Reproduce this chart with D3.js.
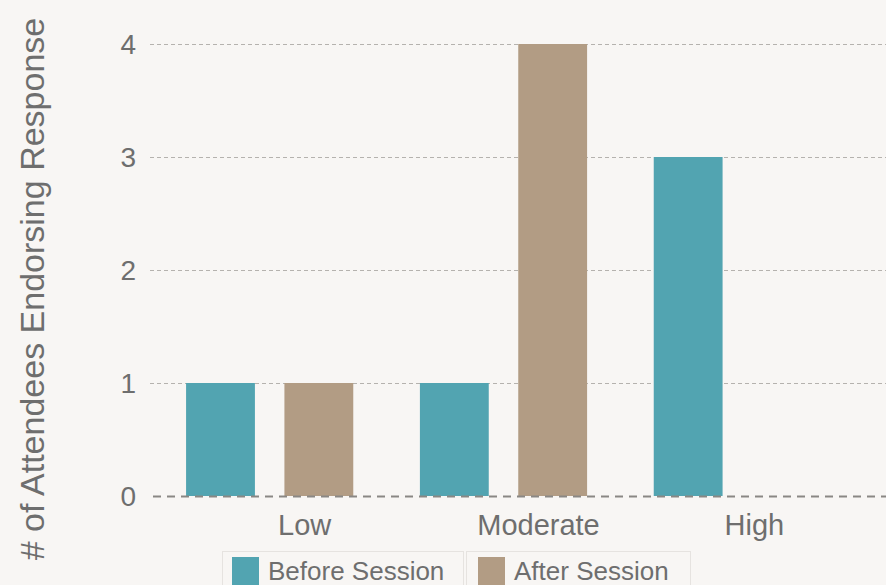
<!DOCTYPE html>
<html>
<head>
<meta charset="utf-8">
<script src="https://cdn.jsdelivr.net/npm/d3@7"></script>
<style>
  body { margin: 0; background: #f8f6f4; }
  svg { display: block; font-family: "Liberation Sans", Arial, sans-serif; }
</style>
</head>
<body>
<svg></svg>
<script>
var width = 886;
var height = 585;

var categories = ["Low", "Moderate", "High"];
var seriesNames = ["Before Session", "After Session"];
var beforeValues = [1, 1, 3];
var afterValues = [1, 4, 0];
var yTicks = [0, 1, 2, 3, 4];

var colors = ["#52a4b1", "#b29c84"];

var svg = d3.select("svg")
            .attr("width", width)
            .attr("height", height);

svg.append("rect")
    .attr("width", width)
    .attr("height", height)
    .attr("fill", "#f8f6f4");

// bands: group starts at 186, 421, 655 with step ~235
var x = d3.scaleBand()
            .domain(categories)
            .range([151, 856])
            .paddingInner(0.285)
            .paddingOuter(0.15);

var xInner = d3.scaleBand()
            .domain(seriesNames)
            .range([0, x.bandwidth()])
            .paddingInner(0.3);

var y = d3.scaleLinear()
            .domain([0, 4])
            .range([496, 44]);

// grid lines
svg.append("g")
    .selectAll("line")
    .data(yTicks.filter(d => d > 0))
    .enter()
    .append("line")
        .attr("x1", 150)
        .attr("x2", width)
        .attr("y1", d => y(d) + 0.5)
        .attr("y2", d => y(d) + 0.5)
        .attr("stroke", "#b5b2ae")
        .attr("stroke-width", 1)
        .attr("stroke-dasharray", "4,3");

// y tick labels
svg.append("g")
    .selectAll("text")
    .data(yTicks)
    .enter()
    .append("text")
        .attr("x", 136)
        .attr("y", d => y(d))
        .attr("dy", "0.36em")
        .attr("text-anchor", "end")
        .attr("fill", "#6e6e6e")
        .style("font-size", "28px")
        .text(d => d);

// bars
var rows = categories.map((c, i) => ({
    category: c,
    values: [
        { series: seriesNames[0], value: beforeValues[i] },
        { series: seriesNames[1], value: afterValues[i] }
    ]
}));

svg.append("g")
    .selectAll("g")
    .data(rows)
    .enter()
    .append("g")
        .attr("transform", d => "translate(" + x(d.category) + ",0)")
    .selectAll("rect")
    .data(d => d.values.filter(v => v.value > 0))
    .enter()
    .append("rect")
        .attr("x", d => xInner(d.series))
        .attr("y", d => y(d.value))
        .attr("width", xInner.bandwidth())
        .attr("height", d => y(0) - y(d.value))
        .attr("fill", d => colors[seriesNames.indexOf(d.series)]);

// zero line
svg.append("line")
    .attr("x1", 153)
    .attr("x2", width)
    .attr("y1", y(0) + 0.5)
    .attr("y2", y(0) + 0.5)
    .attr("stroke", "#8a8784")
    .attr("stroke-width", 2)
    .attr("stroke-dasharray", "8,6");

// x labels
var labelShift = [35, 35, 17];
svg.append("g")
    .selectAll("text")
    .data(categories)
    .enter()
    .append("text")
        .attr("x", (d, i) => x(d) + x.bandwidth() / 2 + labelShift[i])
        .attr("y", 535)
        .attr("text-anchor", "middle")
        .attr("fill", "#6e6e6e")
        .style("font-size", "29px")
        .text(d => d);

// y axis title
svg.append("text")
    .attr("transform", "translate(44, 289) rotate(-90)")
    .attr("text-anchor", "middle")
    .attr("fill", "#6e6e6e")
    .style("font-size", "34px")
    .text("# of Attendees Endorsing Response");

// legend
var legendX = [222, 466];
var legendW = [241, 224];
var legend = svg.append("g")
    .selectAll("g")
    .data(seriesNames)
    .enter()
    .append("g")
        .attr("transform", (d, i) => "translate(" + legendX[i] + ",551)");

legend.append("rect")
    .attr("x", 0.5)
    .attr("y", 0.5)
    .attr("width", (d, i) => legendW[i])
    .attr("height", 40)
    .attr("fill", "#f8f6f4")
    .attr("stroke", "#e6e3e0");

legend.append("rect")
    .attr("x", (d, i) => i === 0 ? 10 : 12)
    .attr("y", 6)
    .attr("width", 27)
    .attr("height", 28)
    .attr("fill", (d, i) => colors[i]);

legend.append("text")
    .attr("x", (d, i) => i === 0 ? 46 : 48)
    .attr("y", 29)
    .attr("fill", "#6e6e6e")
    .style("font-size", "26px")
    .text(d => d);
</script>
</body>
</html>
